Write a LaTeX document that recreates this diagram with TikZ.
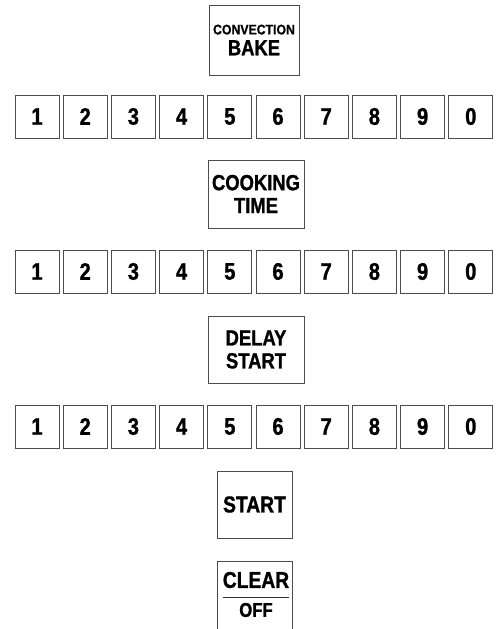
\documentclass[tikz,border=0pt]{standalone}
\usepackage{fontspec}
\setmainfont{Liberation Sans Bold}[FakeStretch=0.84, FakeBold=1.2]
\newfontfamily\widefont{Liberation Sans Bold}[FakeStretch=0.88, FakeBold=0.8]
\tikzset{
  frame/.style={draw=black!70, line width=0.9pt},
  key/.style={frame, minimum width=44bp, minimum height=43bp, inner sep=0pt,
    font=\fontsize{24}{26}\selectfont},
  fkey/.style={frame, inner sep=0pt, align=center,
    font=\fontsize{22}{23}\selectfont},
}
\begin{document}
\begin{tikzpicture}[x=1bp,y=-1bp]
\useasboundingbox (0,0) rectangle (496,629);
% Convection bake
\node[fkey, minimum width=90bp, minimum height=70bp] (conv) at (254,40)
  {{\widefont\fontsize{14}{14}\selectfont CONVECTION}\\[-2pt]BAKE};
% row 1
\foreach \d [count=\i] in {1,2,3,4,5,6,7,8,9,0}
  \node[key] (a\i) at ({37+48.2*(\i-1)},116.5) {\d};
% cooking time
\node[fkey, minimum width=96bp, minimum height=68bp] (cook) at (256,194) {COOKING\\TIME};
% row 2
\foreach \d [count=\i] in {1,2,3,4,5,6,7,8,9,0}
  \node[key] (b\i) at ({37+48.2*(\i-1)},271.5) {\d};
% delay start
\node[fkey, minimum width=96bp, minimum height=67bp] (delay) at (256,349.5) {DELAY\\START};
% row 3
\foreach \d [count=\i] in {1,2,3,4,5,6,7,8,9,0}
  \node[key] (c\i) at ({37+48.2*(\i-1)},426.5) {\d};
% start
\node[fkey, font=\fontsize{23}{25}\selectfont, minimum width=75bp, minimum height=67bp] (start) at (254.5,504.5) {START};
% clear / off (cut at the bottom)
\node[minimum width=74bp, minimum height=67bp, inner sep=0pt] (clear) at (255,595.5) {};
\draw[frame] (clear.south west) -- (clear.north west) -- (clear.north east) -- (clear.south east);
\node[inner sep=0pt, font=\fontsize{23}{25}\selectfont] (clr) at (256,580) {CLEAR};
\node[inner sep=0pt, font=\fontsize{20}{22}\selectfont] (off) at (256,610) {OFF};
\draw[black!80, line width=1pt] ([yshift=-9bp]clr.south west) -- ([yshift=-9bp]clr.south east);
\end{tikzpicture}
\end{document}
